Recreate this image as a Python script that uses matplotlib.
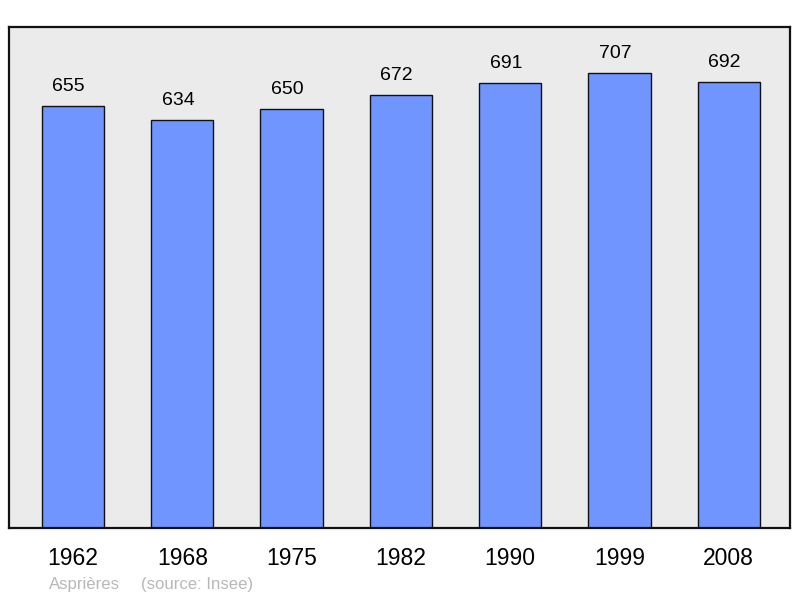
"""Population chart for Asprières (source: Insee)."""

import matplotlib.pyplot as plt

plt.rcParams['font.family'] = ['Liberation Sans', 'DejaVu Sans']

years = ['1962', '1968', '1975', '1982', '1990', '1999', '2008']
population = [655, 634, 650, 672, 691, 707, 692]

fig = plt.figure(figsize=(8, 5.98), dpi=100)
ax = fig.add_axes([0.01125, 0.117, 0.97625, 0.838])
ax.set_facecolor('#ebebeb')

x = range(len(years))
bars = ax.bar(x, population, width=0.57, color='#7095ff',
              edgecolor='#111111', linewidth=1.0, zorder=2)

for xi, v in zip(x, population):
    ax.annotate(str(v), (xi, v), xytext=(-3, 8), textcoords='offset points',
                ha='center', va='bottom', fontsize=14)

ax.set_xlim(-0.585, 6.56)
ax.set_ylim(0, 778)
ax.set_xticks(list(x))
ax.set_xticklabels(years, fontsize=16.5)
ax.tick_params(axis='x', length=0, pad=13.5)
ax.set_yticks([])
for s in ax.spines.values():
    s.set_linewidth(1.6)
    s.set_color('#111111')

# légende source en bas
fig.text(0.061, 0.01, 'Asprières', fontsize=12.1,
         color='#b8b8b8', ha='left', va='bottom')
fig.text(0.176, 0.01, '(source: Insee)', fontsize=12.1,
         color='#b8b8b8', ha='left', va='bottom')

fig.savefig('out.png', dpi=100)
